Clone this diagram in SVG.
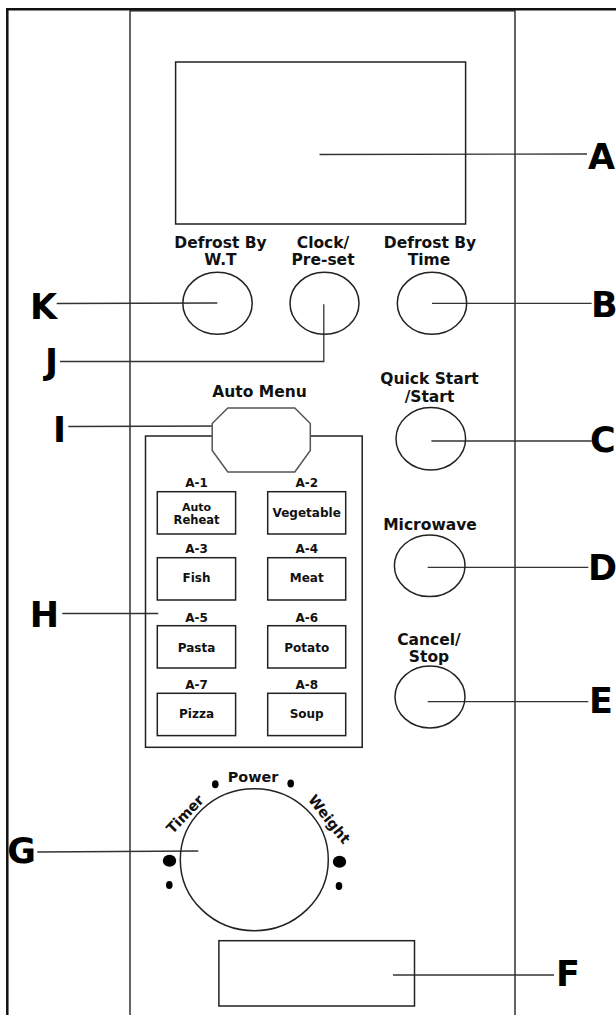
<svg xmlns="http://www.w3.org/2000/svg" width="616" height="1015" viewBox="0 0 616 1015">
<style>
.fr{stroke:#111;fill:none}
.sh{stroke:#222;stroke-width:1.5;fill:#fff}
.ld{stroke:#333;stroke-width:1.3;fill:none}
.lb{font-family:"DejaVu Sans",Verdana,sans-serif;font-weight:bold;font-size:35px;fill:#000}
.bt{font-family:"DejaVu Sans",Verdana,sans-serif;font-weight:bold;font-size:15.5px;fill:#111;text-anchor:middle}
.sm{font-family:"DejaVu Sans",Verdana,sans-serif;font-weight:bold;font-size:12px;fill:#111;text-anchor:middle}
.dl{font-family:"DejaVu Sans",Verdana,sans-serif;font-weight:bold;font-size:14.4px;fill:#111;text-anchor:middle}
.dot{fill:#000}
</style>
<rect width="616" height="1015" fill="#fff"/>
<g id="frame">
<line class="fr" x1="7.3" y1="8" x2="7.3" y2="1015" stroke-width="2.5"/>
<line class="fr" x1="6" y1="9.3" x2="616" y2="9.3" stroke-width="2.5"/>
<line class="fr" x1="130" y1="10.5" x2="130" y2="1015" stroke-width="1.3"/>
<line class="fr" x1="515" y1="10.5" x2="515" y2="1015" stroke-width="1.3"/>
<line class="fr" x1="130" y1="10.8" x2="515" y2="10.8" stroke-width="1.3"/>
</g>
<g id="connectors">
<line class="ld" x1="319.5" y1="154.5" x2="587" y2="154"/>
<line class="ld" x1="56.7" y1="303.5" x2="217.3" y2="303"/>
<polyline class="ld" points="323.8,304.3 323.8,361.5 60,361.5"/>
<line class="ld" x1="432" y1="303.3" x2="591.7" y2="303.3"/>
<line class="ld" x1="68.3" y1="426.5" x2="229.9" y2="426"/>
<line class="ld" x1="431.4" y1="441" x2="591.7" y2="441"/>
<line class="ld" x1="427.7" y1="567.3" x2="588.3" y2="567.3"/>
<line class="ld" x1="62.3" y1="613.5" x2="158.3" y2="613.5"/>
<line class="ld" x1="427.7" y1="701.7" x2="588.3" y2="701.7"/>
<line class="ld" x1="37.3" y1="852" x2="198.3" y2="851"/>
<line class="ld" x1="393" y1="975" x2="554" y2="975"/>
</g>
<g id="display-A">
<rect class="sh" x="175.6" y="62" width="290" height="162" style="fill:none"/>
</g>
<g id="button-K">
<ellipse class="sh" cx="217.5" cy="303.3" rx="34.7" ry="31" style="fill:none"/>
<text class="bt" x="220.5" y="248.3">Defrost By</text>
<text class="bt" x="220.5" y="265">W.T</text>
</g>
<g id="button-J">
<ellipse class="sh" cx="324.5" cy="303.3" rx="34.5" ry="31" style="fill:none"/>
<text class="bt" x="323" y="248.3">Clock/</text>
<text class="bt" x="323" y="265">Pre-set</text>
</g>
<g id="button-B">
<ellipse class="sh" cx="432" cy="303.3" rx="34.7" ry="31" style="fill:none"/>
<text class="bt" x="430" y="248.3">Defrost By</text>
<text class="bt" x="429" y="265">Time</text>
</g>
<g id="button-C">
<ellipse class="sh" cx="430.8" cy="438.8" rx="34.8" ry="31.2" style="fill:none"/>
<text class="bt" x="429.5" y="384">Quick Start</text>
<text class="bt" x="429.5" y="401.5">/Start</text>
</g>
<g id="button-D">
<ellipse class="sh" cx="429.7" cy="565.8" rx="35.3" ry="30.8" style="fill:none"/>
<text class="bt" x="430" y="530">Microwave</text>
</g>
<g id="button-E">
<ellipse class="sh" cx="430" cy="697" rx="35" ry="31" style="fill:none"/>
<text class="bt" x="429" y="645">Cancel/</text>
<text class="bt" x="429" y="661.7">Stop</text>
</g>
<g id="menu-H">
<rect class="sh" x="145.5" y="436" width="216.7" height="311.3" style="fill:none"/>
<rect class="sh" x="157.3" y="491.7" width="78.3" height="42.3"/>
<rect class="sh" x="267.7" y="491.7" width="78" height="42.3"/>
<rect class="sh" x="157.3" y="557.7" width="78.3" height="42.3"/>
<rect class="sh" x="267.7" y="557.7" width="78" height="42.3"/>
<rect class="sh" x="157.3" y="625.7" width="78.3" height="42.3"/>
<rect class="sh" x="267.7" y="625.7" width="78" height="42.3"/>
<rect class="sh" x="157.3" y="693.3" width="78.3" height="42.3"/>
<rect class="sh" x="267.7" y="693.3" width="78" height="42.3"/>
<text class="sm" x="196.5" y="486.7">A-1</text>
<text class="sm" x="306.7" y="486.7">A-2</text>
<text class="sm" x="196.5" y="553.3">A-3</text>
<text class="sm" x="306.7" y="553.3">A-4</text>
<text class="sm" x="196.5" y="621.7">A-5</text>
<text class="sm" x="306.7" y="621.7">A-6</text>
<text class="sm" x="196.5" y="689.3">A-7</text>
<text class="sm" x="306.7" y="689.3">A-8</text>
<text class="sm" x="196.5" y="511.2" style="font-size:11px">Auto</text>
<text class="sm" x="196.5" y="523.5" style="font-size:11.5px">Reheat</text>
<text class="sm" x="306.7" y="517.3">Vegetable</text>
<text class="sm" x="196.5" y="582.3">Fish</text>
<text class="sm" x="306.7" y="582.3">Meat</text>
<text class="sm" x="196.5" y="651.7">Pasta</text>
<text class="sm" x="306.7" y="651.7">Potato</text>
<text class="sm" x="196.5" y="718.3">Pizza</text>
<text class="sm" x="306.7" y="718.3">Soup</text>
</g>
<g id="auto-menu-I">
<polygon points="227.8,408 294.8,408 310.3,423.5 310.3,450.5 294.8,472 227.8,472 212.2,450.5 212.2,423.5" fill="#fff" stroke="#555" stroke-width="1.5"/>
<text class="bt" x="259.5" y="397.3">Auto Menu</text>
</g>
<g id="dial-G">
<ellipse class="sh" cx="254.3" cy="859.7" rx="74" ry="71" style="fill:none"/>
<text class="dl" x="253" y="781.7">Power</text>
<text class="dl" transform="translate(188.6,817.7) rotate(-46)">Timer</text>
<text class="dl" transform="translate(325.3,822.3) rotate(51.6)">Weight</text>
<ellipse class="dot" cx="215.3" cy="784.3" rx="3.3" ry="4"/>
<ellipse class="dot" cx="290.7" cy="783.5" rx="3.3" ry="4"/>
<ellipse class="dot" cx="169.5" cy="860.7" rx="6.7" ry="6"/>
<ellipse class="dot" cx="339.5" cy="861.7" rx="6.7" ry="6"/>
<ellipse class="dot" cx="169.3" cy="885" rx="3.3" ry="4"/>
<ellipse class="dot" cx="339" cy="886" rx="3.3" ry="4"/>
</g>
<g id="panel-F">
<rect class="sh" x="218.9" y="940.7" width="195.6" height="65.3" style="fill:none"/>
</g>
<g id="labels">
<text class="lb" x="588" y="169.3">A</text>
<text class="lb" x="591" y="316.7">B</text>
<text class="lb" x="590" y="451.5">C</text>
<text class="lb" x="588" y="580">D</text>
<text class="lb" x="589" y="713">E</text>
<text class="lb" x="556" y="985.7">F</text>
<text class="lb" x="36" y="863.3" text-anchor="end">G</text>
<text class="lb" x="59" y="626.7" text-anchor="end">H</text>
<text class="lb" x="66" y="441.7" text-anchor="end">I</text>
<text class="lb" x="58" y="374" text-anchor="end">J</text>
<text class="lb" x="57" y="319.3" text-anchor="end">K</text>
</g>
</svg>
